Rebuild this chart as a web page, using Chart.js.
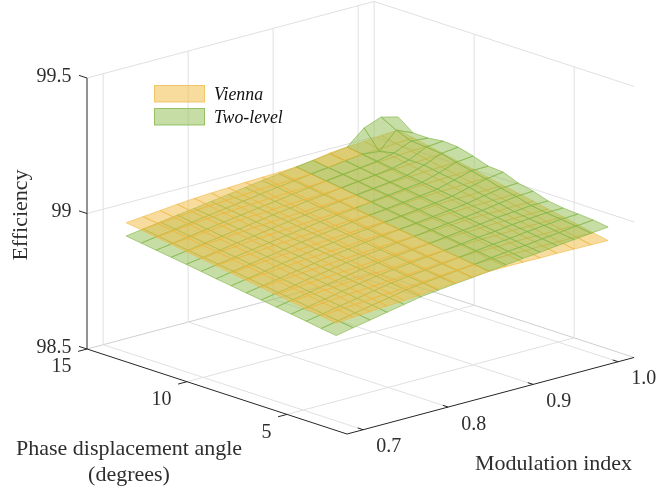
<!DOCTYPE html>
<html>
<head>
<meta charset="utf-8">
<style>
body{margin:0;background:#fff;}
canvas{display:block;}
</style>
<script src="https://cdn.jsdelivr.net/npm/chart.js@4"></script>
</head>
<body>
<canvas id="surfaceChart" width="657" height="486"></canvas>
<script>
// =========================
// DATA
// =========================
const seriesNames = ['Vienna', 'Two-level'];
const modIndex = [0.68,0.70,0.72,0.74,0.76,0.78,0.80,0.82,0.84,0.86,0.88,0.90,0.92,0.94,0.96,0.98,1.00];
const phaseAngle = [13,12.25,11.5,10.75,10,9.25,8.5,7.75,7,6.25,5.5,4.75,4,3.25,2.5];

const modTicks = [0.7,0.8,0.9,1.0];
const modTickLabels = ['0.7','0.8','0.9','1.0'];
const phaseTicks = [15,10,5];
const phaseTickLabels = ['15','10','5'];
const effTicks = [99.5,99,98.5];
const effTickLabels = ['99.5','99','98.5'];

// one row per phase angle, one column per modulation index
const viennaEff = [
[99.015,99.021,99.027,99.033,99.038,99.041,99.044,99.047,99.049,99.051,99.053,99.062,99.072,99.077,99.081,99.086,99.090],
[99.007,99.013,99.018,99.024,99.029,99.032,99.035,99.039,99.041,99.043,99.045,99.053,99.062,99.067,99.071,99.075,99.079],
[98.998,99.004,99.010,99.016,99.020,99.024,99.027,99.030,99.033,99.035,99.037,99.044,99.053,99.057,99.060,99.065,99.068],
[98.990,98.996,99.001,99.007,99.012,99.015,99.018,99.022,99.024,99.027,99.029,99.036,99.043,99.047,99.050,99.054,99.057],
[98.981,98.987,98.993,98.998,99.003,99.006,99.010,99.013,99.016,99.019,99.021,99.027,99.034,99.037,99.040,99.043,99.046],
[98.973,98.979,98.984,98.990,98.994,98.997,99.001,99.005,99.008,99.011,99.013,99.018,99.024,99.028,99.030,99.032,99.035],
[98.965,98.971,98.975,98.981,98.985,98.989,98.992,98.997,99.000,99.002,99.004,99.009,99.014,99.018,99.019,99.022,99.023],
[98.956,98.962,98.967,98.972,98.976,98.980,98.984,98.988,98.992,98.994,98.996,99.000,99.005,99.008,99.009,99.011,99.012],
[98.948,98.954,98.958,98.963,98.968,98.971,98.975,98.980,98.983,98.986,98.988,98.992,98.995,98.998,98.999,99.000,99.001],
[98.939,98.945,98.950,98.955,98.959,98.963,98.967,98.971,98.975,98.978,98.980,98.983,98.986,98.988,98.988,98.990,98.990],
[98.931,98.937,98.941,98.946,98.950,98.954,98.958,98.963,98.967,98.970,98.972,98.974,98.976,98.978,98.978,98.979,98.979],
[98.923,98.929,98.932,98.937,98.941,98.945,98.949,98.955,98.959,98.962,98.964,98.965,98.966,98.968,98.968,98.968,98.968],
[98.914,98.920,98.924,98.929,98.932,98.937,98.941,98.946,98.951,98.954,98.956,98.956,98.957,98.958,98.957,98.958,98.957],
[98.906,98.912,98.915,98.920,98.924,98.928,98.932,98.938,98.942,98.946,98.947,98.947,98.947,98.948,98.947,98.947,98.946],
[98.898,98.903,98.907,98.911,98.915,98.919,98.924,98.929,98.934,98.938,98.939,98.939,98.938,98.938,98.937,98.936,98.935]
];
const twoLevelEff = [
[98.966,98.975,98.984,98.993,99.001,99.010,99.019,99.028,99.037,99.045,99.054,99.061,99.069,99.077,99.131,99.154,99.138],
[98.958,98.967,98.976,98.985,98.994,99.003,99.012,99.021,99.030,99.037,99.046,99.053,99.061,99.069,99.062,99.124,99.097],
[98.950,98.959,98.969,98.978,98.987,98.996,99.005,99.013,99.022,99.030,99.039,99.046,99.053,99.061,99.075,99.102,99.096],
[98.942,98.951,98.961,98.970,98.979,98.989,98.998,99.006,99.015,99.022,99.031,99.038,99.045,99.053,99.067,99.098,99.103],
[98.934,98.943,98.953,98.963,98.972,98.982,98.991,98.999,99.007,99.015,99.023,99.030,99.037,99.045,99.066,99.092,99.099],
[98.926,98.936,98.946,98.956,98.965,98.975,98.983,98.992,99.000,99.007,99.016,99.023,99.030,99.037,99.056,99.078,99.084],
[98.917,98.928,98.938,98.948,98.958,98.968,98.976,98.984,98.992,99.000,99.008,99.015,99.022,99.030,99.047,99.064,99.065],
[98.909,98.920,98.930,98.941,98.951,98.961,98.969,98.977,98.985,98.992,99.000,99.007,99.014,99.022,99.038,99.052,99.061],
[98.901,98.912,98.922,98.933,98.943,98.954,98.962,98.970,98.977,98.984,98.992,98.999,99.006,99.014,99.026,99.036,99.039],
[98.893,98.904,98.915,98.926,98.936,98.947,98.955,98.962,98.970,98.977,98.985,98.992,98.998,99.006,99.015,99.024,99.027],
[98.885,98.896,98.907,98.918,98.929,98.940,98.948,98.955,98.962,98.969,98.977,98.984,98.990,98.998,99.003,99.009,99.009],
[98.877,98.888,98.899,98.911,98.922,98.933,98.941,98.948,98.955,98.961,98.969,98.976,98.982,98.990,98.995,99.000,99.001],
[98.869,98.880,98.892,98.903,98.915,98.926,98.934,98.940,98.947,98.954,98.962,98.969,98.974,98.982,98.988,98.994,98.997],
[98.860,98.872,98.884,98.896,98.907,98.919,98.927,98.933,98.940,98.946,98.954,98.961,98.966,98.974,98.980,98.987,98.993],
[98.852,98.864,98.876,98.888,98.900,98.912,98.919,98.926,98.932,98.939,98.946,98.953,98.959,98.966,98.972,98.979,98.985]
];

// axis box limits
const modMin = 0.681, modMax = 1.0188;
const phaseMin = 2, phaseMax = 15;
const effMin = 98.5, effMax = 99.5;

// styles
const viennaFill = 'rgba(240,188,68,0.52)', viennaEdge = 'rgba(238,182,60,0.7)';
const greenFill = 'rgba(145,190,85,0.52)', greenEdge = 'rgba(130,182,72,0.8)';
const gridColor = '#e0e0e0', boxColor = '#cfcfcf', axisColor = '#262626';
const textColor = '#2e2e2e';

// fixed orthographic view, 3D value -> plane used by the two hidden chart scales
function project(m, p, e){
    return {
        x: 87 + (m-modMin)*850 + (phaseMax-p)*20,
        y: 349 - (m-modMin)*226.6 + (phaseMax-p)*6.54 - (e-effMin)*271
    };
}

function seg(a, b, color, width){
    return {data:[a,b], showLine:true, fill:false, pointRadius:0, borderColor:color, borderWidth:width||1};
}

// =========================
// BOX, GRID, AXES
// =========================
const frame = [];
modTicks.forEach(m=>{
    frame.push(seg(project(m,phaseMax,effMin), project(m,phaseMax,effMax), gridColor));
    frame.push(seg(project(m,phaseMin,effMin), project(m,phaseMax,effMin), gridColor));
});
phaseTicks.forEach(p=>{
    frame.push(seg(project(modMax,p,effMin), project(modMax,p,effMax), gridColor));
    if(p<phaseMax) frame.push(seg(project(modMin,p,effMin), project(modMax,p,effMin), gridColor));
});
frame.push(seg(project(modMin,phaseMax,99), project(modMax,phaseMax,99), gridColor));
frame.push(seg(project(modMax,phaseMax,99), project(modMax,phaseMin,99), gridColor));
frame.push(seg(project(modMin,phaseMax,effMax), project(modMax,phaseMax,effMax), gridColor));
frame.push(seg(project(modMax,phaseMax,effMax), project(modMax,phaseMin,effMax), gridColor));
frame.push(seg(project(modMin,phaseMax,effMin), project(modMax,phaseMax,effMin), boxColor));
frame.push(seg(project(modMax,phaseMax,effMin), project(modMax,phaseMin,effMin), boxColor));

const axes = [];
axes.push(seg(project(modMin,phaseMax,effMin), project(modMin,phaseMax,effMax), axisColor));
axes.push(seg(project(modMin,phaseMax,effMin), project(modMin,phaseMin,effMin), axisColor));
axes.push(seg(project(modMin,phaseMin,effMin), project(modMax,phaseMin,effMin), axisColor));
effTicks.forEach(e=>axes.push(seg(project(modMin,phaseMax,e), project(modMin,phaseMax+0.4,e), axisColor)));
modTicks.forEach(m=>axes.push(seg(project(m,phaseMin,effMin), project(m,phaseMin+0.27,effMin), axisColor)));
phaseTicks.forEach(p=>axes.push(seg(project(modMin,p,effMin), project(modMin-0.0105,p,effMin), axisColor)));

// =========================
// SURFACES
// =========================
function cellMean(z,j,i){
    return (z[j][i]+z[j][i+1]+z[j+1][i]+z[j+1][i+1])/4;
}
function quad(z,j,i,fillColor,edge){
    const pts = [[j,i],[j,i+1],[j+1,i+1],[j+1,i],[j,i]].map(c=>project(modIndex[c[1]],phaseAngle[c[0]],z[c[0]][c[1]]));
    return {data:pts, showLine:true, fill:'shape', pointRadius:0, backgroundColor:fillColor, borderColor:edge, borderWidth:0.8};
}
// the surface that is higher in a cell goes on top of the other one
const upperCells = [], lowerCells = [];
for(let j=0;j<phaseAngle.length-1;j++){
    for(let i=0;i<modIndex.length-1;i++){
        const vienna = quad(viennaEff,j,i,viennaFill,viennaEdge);
        const green = quad(twoLevelEff,j,i,greenFill,greenEdge);
        if(cellMean(viennaEff,j,i) >= cellMean(twoLevelEff,j,i)){
            upperCells.push(vienna); lowerCells.push(green);
        }else{
            upperCells.push(green); lowerCells.push(vienna);
        }
    }
}

// =========================
// TEXT AND LEGEND
// =========================
const textPlugin = {
    id:'textPlugin',
    afterDraw(chart){
        const ctx = chart.ctx;
        const sx = chart.scales.x, sy = chart.scales.y;
        const put = (txt,x,y,align,font)=>{
            ctx.font = font;
            ctx.textAlign = align;
            ctx.textBaseline = 'middle';
            ctx.fillStyle = textColor;
            ctx.fillText(txt,x,y);
        };
        const tickFont = '20px "Liberation Serif"';
        const labelFont = '22px "Liberation Serif"';
        const at = pt=>({x:sx.getPixelForValue(pt.x), y:sy.getPixelForValue(pt.y)});

        effTicks.forEach((e,k)=>{
            const q = at(project(modMin,phaseMax,e));
            put(effTickLabels[k], q.x-15.4, q.y-1.5, 'right', tickFont);
        });
        phaseTicks.forEach((p,k)=>{
            const q = at(project(modMin,p,effMin));
            put(phaseTickLabels[k], q.x-15.5, q.y+18, 'right', tickFont);
        });
        modTicks.forEach((m,k)=>{
            const q = at(project(m,phaseMin,effMin));
            put(modTickLabels[k], q.x+25.5, q.y+17.5, 'center', tickFont);
        });

        put('Phase displacement angle', 129, 449, 'center', labelFont);
        put('(degrees)', 129, 475, 'center', labelFont);
        put('Modulation index', 553.5, 464, 'center', labelFont);
        ctx.save();
        ctx.translate(21,215);
        ctx.rotate(-Math.PI/2);
        put('Efficiency', 0, 0, 'center', labelFont);
        ctx.restore();

        // legend
        const legendFont = 'italic 17.8px "Liberation Serif"';
        [[viennaFill,viennaEdge,85],[greenFill,greenEdge,108]].forEach((row,k)=>{
            ctx.fillStyle = row[0];
            ctx.strokeStyle = row[1];
            ctx.lineWidth = 1;
            ctx.fillRect(154.5,row[2]+0.5,50,16.5);
            ctx.strokeRect(154.5,row[2]+0.5,50,16.5);
            ctx.font = legendFont;
            ctx.textAlign = 'left';
            ctx.textBaseline = 'middle';
            ctx.fillStyle = '#111111';
            ctx.fillText(seriesNames[k],214,row[2]+10.5);
        });
    }
};

// =========================
// CHART
// =========================
// chart.js paints the last dataset first
new Chart(document.getElementById('surfaceChart').getContext('2d'),{
    type:'scatter',
    data:{datasets:[...axes,...upperCells,...lowerCells,...frame]},
    options:{
        responsive:false,
        animation:false,
        events:[],
        layout:{padding:0},
        plugins:{legend:{display:false},tooltip:{enabled:false}},
        scales:{
            x:{type:'linear',display:false,min:0,max:657},
            y:{type:'linear',display:false,min:0,max:486,reverse:true}
        }
    },
    plugins:[textPlugin]
});
</script>
</body>
</html>
